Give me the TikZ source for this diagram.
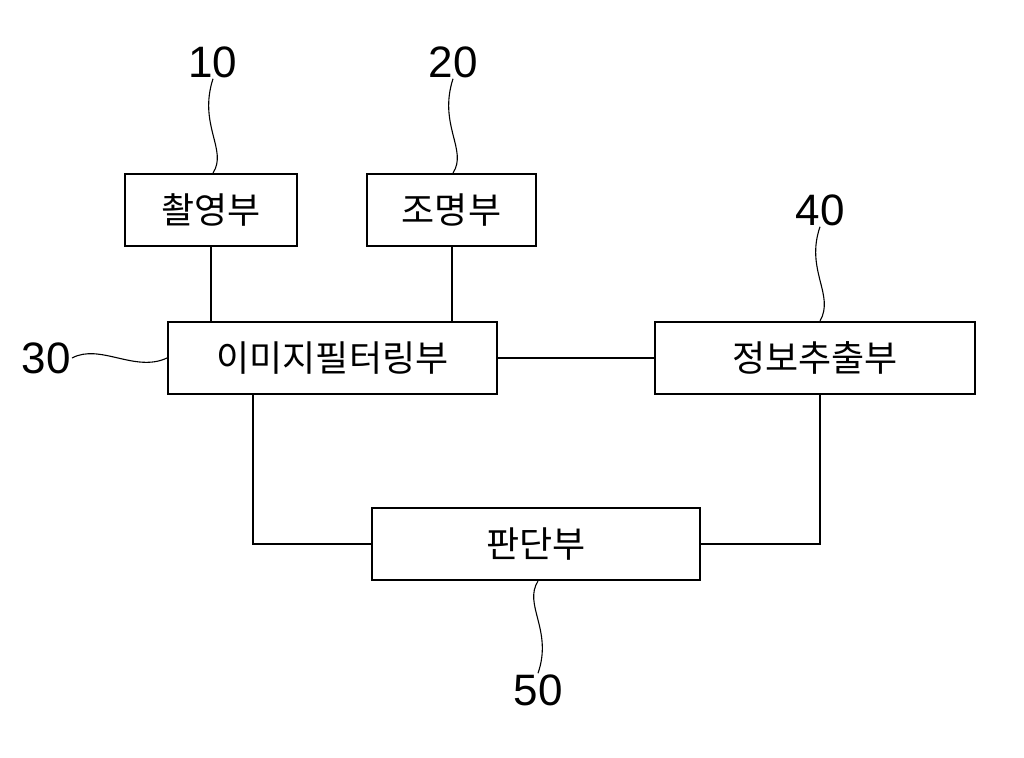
\documentclass[tikz,border=0pt]{standalone}
\usepackage{fontspec}
\setmainfont{Liberation Sans}
\newfontfamily\kr{Noto Sans CJK KR}
\begin{document}
\begin{tikzpicture}[x=1pt,y=-1pt,
 box/.style={draw,line width=2pt,minimum height=72pt,inner sep=0pt,font=\kr\fontsize{36}{38}\selectfont},
 num/.style={font=\fontsize{44}{46}\selectfont,inner sep=1pt},
 ln/.style={line width=2pt},
 wv/.style={line width=1.1pt}]
\useasboundingbox (0,0) rectangle (1024,757);
\node[box,minimum width=172pt] (a) at (211,210) {촬영부};
\node[box,minimum width=169pt] (b) at (451.5,210) {조명부};
\node[box,minimum width=329pt] (c) at (332.5,358) {이미지필터링부};
\node[box,minimum width=320pt] (d) at (815,358) {정보추출부};
\node[box,minimum width=328pt] (e) at (536,544) {판단부};
\node[num] (n10) at (213,62) {10};
\node[num] (n20) at (453,62) {20};
\node[num] (n40) at (820,210) {40};
\node[num,anchor=east] (n30) at (72,358) {30};
\node[num] (n50) at (538,690) {50};
\draw[ln] (a.south) -- (a.south |- c.north);
\draw[ln] (b.south) -- (b.south |- c.north);
\draw[ln] (c.east) -- (d.west);
\draw[ln] (c.south -| 253,0) |- (e.west);
\draw[ln] (d.south -| 820,0) |- (e.east);
\draw[wv] (n10.south) .. controls (198,125) and (228,150) .. (a.north -| 213,0);
\draw[wv] (n20.south) .. controls (438,125) and (468,150) .. (b.north -| 453,0);
\draw[wv] (n40.south) .. controls (805,270) and (835,295) .. (d.north -| 820,0);
\draw[wv] (n30.east) .. controls (100,343) and (135,373) .. (c.west);
\draw[wv] (e.south -| 538,0) .. controls (523,605) and (553,630) .. (n50.north);
\end{tikzpicture}
\end{document}
